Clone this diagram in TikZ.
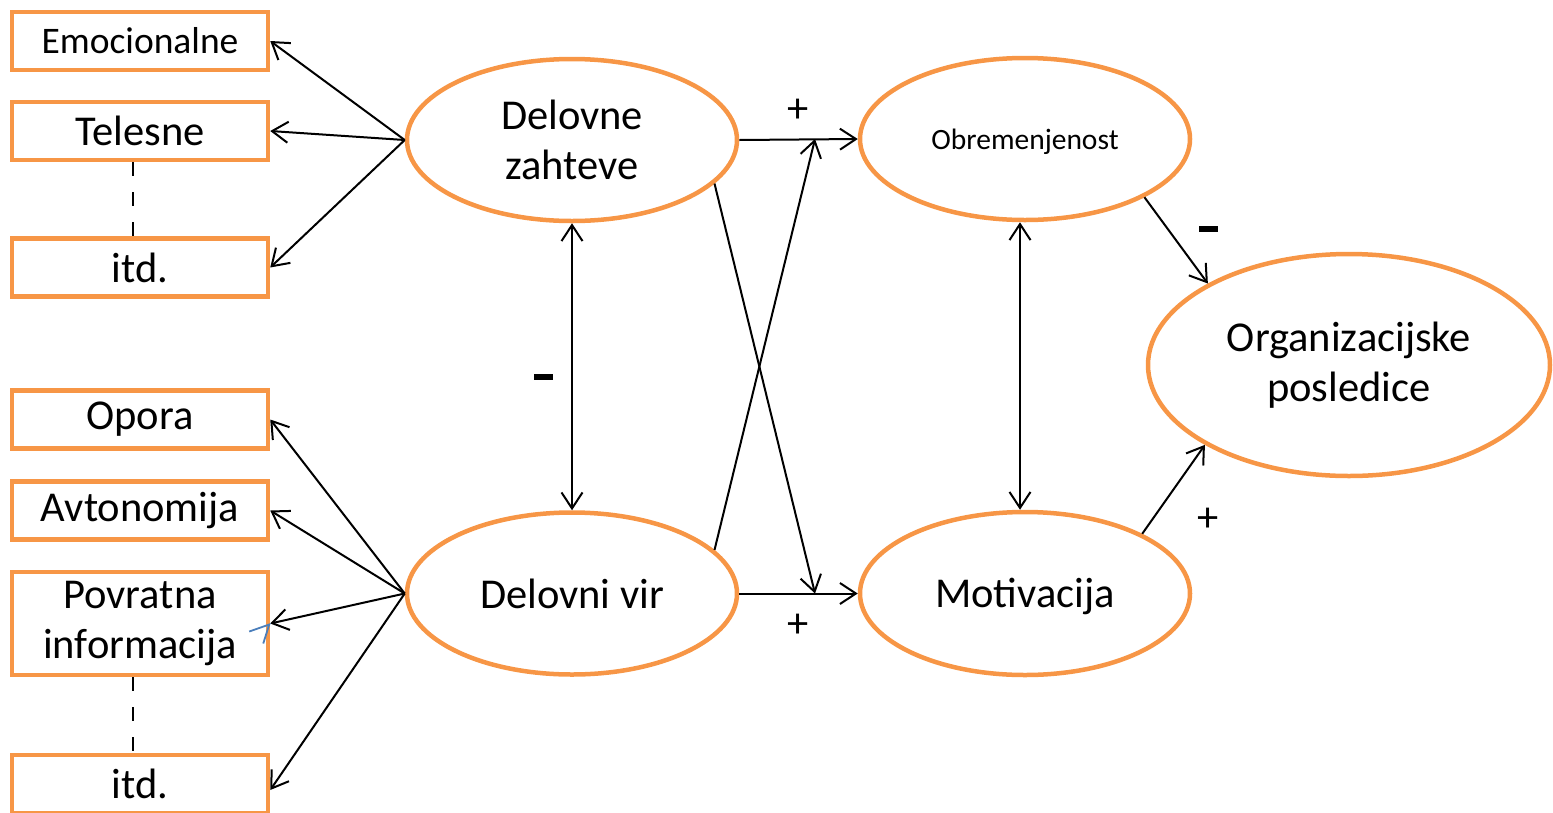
\documentclass[tikz,border=0pt]{standalone}
\usepackage{fontspec}
\setmainfont{Carlito}
\usetikzlibrary{arrows.meta,shapes.geometric}
\definecolor{ora}{HTML}{F79646}
\definecolor{blu}{HTML}{4A7EBB}
\tikzset{
  box/.style={draw=ora,line width=4.5pt,rectangle,minimum width=256pt,minimum height=58pt,inner sep=0pt,align=center,font=\fontsize{42.5}{50}\selectfont},
  oval/.style={draw=ora,line width=4.5pt,ellipse,inner sep=0pt,align=center,font=\fontsize{42.5}{50}\selectfont},
  arr/.style={line width=2pt,-{Straight Barb[length=16pt,width=21pt,line width=2pt]}},
  darr/.style={line width=2pt,{Straight Barb[length=16pt,width=21pt,line width=2pt]}-{Straight Barb[length=16pt,width=21pt,line width=2pt]}},
  sign/.style={font=\fontsize{42.5}{50}\selectfont,inner sep=0pt},
}
\begin{document}
\begin{tikzpicture}[x=1pt,y=-1pt]
\useasboundingbox (0,0) rectangle (1553,812);
% boxes
\node[box,font=\fontsize{37.5}{44}\selectfont] (emo) at (140,41) {Emocionalne};
\node[box] (tel) at (140,131) {Telesne};
\node[box] (itda) at (140,267.5) {itd.};
\node[box] (opo) at (140,419.5) {Opora};
\node[box] (avt) at (140,510.5) {Avtonomija};
\node[box,minimum height=103pt] (pov) at (140,623.5) {Povratna\\informacija};
\node[box] (itdb) at (140,784) {itd.};
% ellipses
\node[oval,minimum width=330pt,minimum height=162pt] (dz) at (572,140) {Delovne\\zahteve};
\node[oval,minimum width=330pt,minimum height=162pt] (dv) at (572,593.5) {Delovni vir};
\node[oval,minimum width=330pt,minimum height=162pt,font=\fontsize{29.5}{34}\selectfont] (ob) at (1025,139) {\raisebox{-3pt}[\height][\depth]{Obremenjenost}};
\node[oval,minimum width=330pt,minimum height=163pt] (mo) at (1025,593.5) {\raisebox{-3pt}[\height][\depth]{Motivacija}};
\node[oval,minimum width=402pt,minimum height=222pt] (org) at (1349,365) {Organizacijske\\posledice};
% left arrows
\draw[arr] (dz.west) -- (emo.east);
\draw[arr] (dz.west) -- (tel.east);
\draw[arr] (dz.west) -- (itda.east);
\draw[arr] (dv.west) -- (opo.east);
\draw[arr] (dv.west) -- (avt.east);
\draw[arr] (dv.west) -- (pov.east);
\draw[arr] (dv.west) -- ([yshift=-6pt]itdb.east);
% dashed
\draw[line width=1.6pt,dash pattern=on 14pt off 16pt] ([xshift=-7pt]tel.south) -- ([xshift=-7pt]itda.north);
\draw[line width=1.6pt,dash pattern=on 14pt off 16pt] ([xshift=-7pt]pov.south) -- ([xshift=-7pt]itdb.north);
% blue mark
\draw[blu,line width=1.8pt] ([shift={(-21pt,-8pt)}]pov.east) -- ([shift={(-1pt,-1pt)}]pov.east) -- ([shift={(-7pt,-20pt)}]pov.east);
% middle arrows
\coordinate (xa) at (815,139);
\coordinate (xb) at (815,593.5);
\draw[arr] (dz.east) -- (ob.west);
\draw[arr] (dv.east) -- (mo.west);
\draw[arr] (dz.-17.6) -- (xb);
\draw[arr] (dv.17.6) -- (xa);
\draw[darr] (dz.south) -- (dv.north);
\draw[darr] ([xshift=-5pt]ob.south) -- ([xshift=-5pt]mo.north);
\draw[arr] (ob.-26) -- (org.150.6);
\draw[arr] (mo.27) -- (org.209.7);
% signs
\node[sign] (p1) at (798,111) {+};
\node[sign] (p2) at (798,626) {+};
\node[sign] (p3) at (1208,520) {+};
\node[sign] (m1) at (543,377) {\rule{19pt}{6.5pt}};
\node[sign] (m2) at (1208,229) {\rule{19pt}{6.5pt}};
\end{tikzpicture}
\end{document}
